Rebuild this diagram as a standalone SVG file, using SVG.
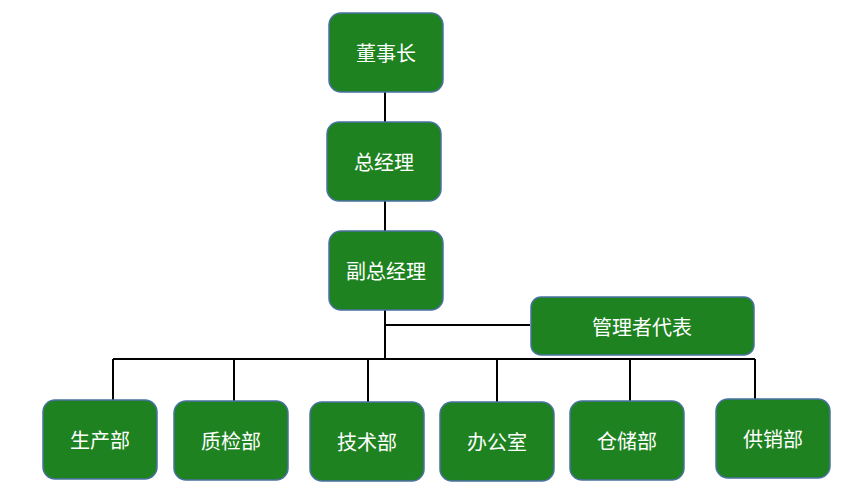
<svg xmlns="http://www.w3.org/2000/svg" width="852" height="491" viewBox="0 0 852 491">
<style>
.box{fill:#1E8220;stroke:#4A72A0;stroke-width:1.5}
.lbl{fill:#FFFFFF;font-family:"Noto Sans CJK SC","Noto Sans",sans-serif;font-size:20px;text-anchor:middle;dominant-baseline:central}
.ln{stroke:#000;stroke-width:2;fill:none}
</style>
<rect width="852" height="491" fill="#FFFFFF"/>
<g id="connectors">
<path class="ln" d="M385,92V122M385,201V231M385,310V359M385,325H530M113,359H755M113,359V400M234,359V401M368,359V402M497,359V402M630,359V401M755,359V399"/>
</g>
<g id="n1"><rect class="box" x="329" y="13" width="114" height="79" rx="12"/><text class="lbl" x="386" y="52">董事长</text></g>
<g id="n2"><rect class="box" x="327" y="122" width="114" height="79" rx="12"/><text class="lbl" x="384" y="161">总经理</text></g>
<g id="n3"><rect class="box" x="329" y="231" width="114" height="79" rx="12"/><text class="lbl" x="386" y="270">副总经理</text></g>
<g id="n4"><rect class="box" x="531" y="297" width="223" height="58" rx="10"/><text class="lbl" x="642" y="326">管理者代表</text></g>
<g id="n5"><rect class="box" x="43" y="400" width="114" height="79" rx="12"/><text class="lbl" x="100" y="439">生产部</text></g>
<g id="n6"><rect class="box" x="174" y="401" width="114" height="79" rx="12"/><text class="lbl" x="231" y="440">质检部</text></g>
<g id="n7"><rect class="box" x="310" y="402" width="114" height="79" rx="12"/><text class="lbl" x="367" y="441">技术部</text></g>
<g id="n8"><rect class="box" x="440" y="402" width="114" height="79" rx="12"/><text class="lbl" x="497" y="441">办公室</text></g>
<g id="n9"><rect class="box" x="570" y="401" width="114" height="79" rx="12"/><text class="lbl" x="627" y="440">仓储部</text></g>
<g id="n10"><rect class="box" x="716" y="399" width="114" height="79" rx="12"/><text class="lbl" x="773" y="438">供销部</text></g>
</svg>
